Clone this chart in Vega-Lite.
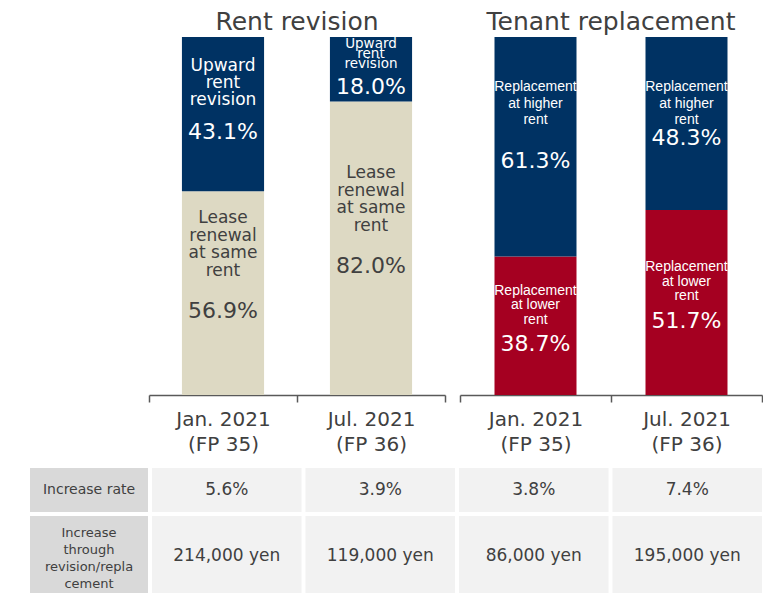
{
  "$schema": "https://vega.github.io/schema/vega-lite/v6.json",
  "background": "white",
  "padding": {"left": 30, "top": 10, "right": 0, "bottom": 0},
  "config": {
    "view": {"stroke": null},
    "font": "DejaVu Sans",
    "title": {"font": "DejaVu Sans", "fontSize": 25, "fontWeight": "normal", "color": "#404040", "baseline": "alphabetic", "offset": 2, "anchor": "middle"},
    "text": {"font": "DejaVu Sans"},
    "axisX": {
      "title": null, "labelAngle": 0, "labelExpr": "split(datum.label, '\\n')",
      "labelFont": "DejaVu Sans", "labelFontSize": 20, "labelColor": "#404040", "labelLineHeight": 25.5,
      "labelPadding": 7, "tickBand": "extent", "tickSize": 7, "tickColor": "#595959", "tickWidth": 1.5,
      "domainColor": "#595959", "domainWidth": 1.5
    }
  },
  "datasets": {
    "rent": [
      {"period": "Jan. 2021\n(FP 35)", "seg": "Lease renewal at same rent", "name": "Lease\nrenewal\nat same\nrent", "pct": 0.569, "ord": 1},
      {"period": "Jan. 2021\n(FP 35)", "seg": "Upward rent revision", "name": "Upward\nrent\nrevision", "pct": 0.431, "ord": 2},
      {"period": "Jul. 2021\n(FP 36)", "seg": "Lease renewal at same rent", "name": "Lease\nrenewal\nat same\nrent", "pct": 0.82, "ord": 1},
      {"period": "Jul. 2021\n(FP 36)", "seg": "Upward rent revision", "name": "Upward\nrent\nrevision", "pct": 0.18, "ord": 2}
    ],
    "tenant": [
      {"period": "Jan. 2021\n(FP 35)", "seg": "Replacement at lower rent", "name": "Replacement\nat lower\nrent", "pct": 0.387, "ord": 1},
      {"period": "Jan. 2021\n(FP 35)", "seg": "Replacement at higher rent", "name": "Replacement\nat higher\nrent", "pct": 0.613, "ord": 2},
      {"period": "Jul. 2021\n(FP 36)", "seg": "Replacement at lower rent", "name": "Replacement\nat lower\nrent", "pct": 0.517, "ord": 1},
      {"period": "Jul. 2021\n(FP 36)", "seg": "Replacement at higher rent", "name": "Replacement\nat higher\nrent", "pct": 0.483, "ord": 2}
    ],
    "rows": [
      {"metric": "Increase rate", "label": "Increase rate"},
      {"metric": "Increase through revision/replacement", "label": "Increase\nthrough\nrevision/repla\ncement"}
    ],
    "table": [
      {"metric": "Increase rate", "col": "Rent revision Jan. 2021 (FP 35)", "value": "5.6%"},
      {"metric": "Increase rate", "col": "Rent revision Jul. 2021 (FP 36)", "value": "3.9%"},
      {"metric": "Increase rate", "col": "Tenant replacement Jan. 2021 (FP 35)", "value": "3.8%"},
      {"metric": "Increase rate", "col": "Tenant replacement Jul. 2021 (FP 36)", "value": "7.4%"},
      {"metric": "Increase through revision/replacement", "col": "Rent revision Jan. 2021 (FP 35)", "value": "214,000 yen"},
      {"metric": "Increase through revision/replacement", "col": "Rent revision Jul. 2021 (FP 36)", "value": "119,000 yen"},
      {"metric": "Increase through revision/replacement", "col": "Tenant replacement Jan. 2021 (FP 35)", "value": "86,000 yen"},
      {"metric": "Increase through revision/replacement", "col": "Tenant replacement Jul. 2021 (FP 36)", "value": "195,000 yen"}
    ]
  },
  "vconcat": [
    {
      "resolve": {"scale": {"color": "independent"}},
      "hconcat": [
        {"width": 105, "height": 10, "data": {"values": []}, "mark": "rect"},
        {
          "title": "Rent revision",
          "width": 296, "height": 358,
          "data": {"name": "rent"},
          "transform": [{"stack": "pct", "groupby": ["period"], "sort": [{"field": "ord", "order": "ascending"}], "as": ["y0", "y1"]}],
          "encoding": {"x": {"field": "period", "type": "nominal", "sort": null, "scale": {"paddingInner": 0, "paddingOuter": 0}}},
          "layer": [
            {
              "mark": {"type": "bar", "width": {"band": 0.555}},
              "encoding": {
                "y": {"field": "y0", "type": "quantitative", "scale": {"domain": [0, 1]}, "axis": null},
                "y2": {"field": "y1"},
                "color": {"field": "seg", "type": "nominal", "legend": null,
                  "scale": {"domain": ["Lease renewal at same rent", "Upward rent revision"], "range": ["#DDD9C3", "#003263"]}}
              }
            },
            {
              "transform": [
                {"fold": ["y0", "y1"], "as": ["edge", "ev"]},
                {"aggregate": [{"op": "mean", "field": "ev", "as": "mid"}], "groupby": ["period", "seg", "name", "pct"]},
                {"filter": "datum.seg === 'Upward rent revision' && datum.pct >= 0.3"}
              ],
              "mark": {"type": "text", "lineBreak": "\n", "baseline": "alphabetic", "fontSize": 17, "lineHeight": 17, "dy": -43, "color": "#FFFFFF"},
              "encoding": {"y": {"field": "mid", "type": "quantitative", "scale": {"domain": [0, 1]}}, "text": {"field": "name"}}
            },
            {
              "transform": [
                {"fold": ["y0", "y1"], "as": ["edge", "ev"]},
                {"aggregate": [{"op": "mean", "field": "ev", "as": "mid"}], "groupby": ["period", "seg", "name", "pct"]},
                {"filter": "datum.seg === 'Upward rent revision' && datum.pct < 0.3"}
              ],
              "mark": {"type": "text", "lineBreak": "\n", "baseline": "alphabetic", "fontSize": 13.5, "lineHeight": 10, "dy": -21, "color": "#FFFFFF"},
              "encoding": {"y": {"field": "mid", "type": "quantitative", "scale": {"domain": [0, 1]}}, "text": {"field": "name"}}
            },
            {
              "transform": [
                {"fold": ["y0", "y1"], "as": ["edge", "ev"]},
                {"aggregate": [{"op": "mean", "field": "ev", "as": "mid"}], "groupby": ["period", "seg", "name", "pct"]},
                {"filter": "datum.seg === 'Lease renewal at same rent'"}
              ],
              "mark": {"type": "text", "lineBreak": "\n", "baseline": "alphabetic", "fontSize": 17, "lineHeight": 17.5, "dy": -70, "color": "#404040"},
              "encoding": {"y": {"field": "mid", "type": "quantitative", "scale": {"domain": [0, 1]}}, "text": {"field": "name"}}
            },
            {
              "transform": [
                {"fold": ["y0", "y1"], "as": ["edge", "ev"]},
                {"aggregate": [{"op": "mean", "field": "ev", "as": "mid"}], "groupby": ["period", "seg", "name", "pct"]}
              ],
              "mark": {"type": "text", "baseline": "middle", "fontSize": 22, "dy": 18},
              "encoding": {
                "y": {"field": "mid", "type": "quantitative", "scale": {"domain": [0, 1]}},
                "text": {"field": "pct", "type": "quantitative", "format": ".1%"},
                "color": {"condition": {"test": "datum.seg === 'Lease renewal at same rent'", "value": "#404040"}, "value": "#FFFFFF"}
              }
            }
          ]
        },
        {
          "title": "Tenant replacement",
          "width": 302, "height": 358,
          "data": {"name": "tenant"},
          "transform": [{"stack": "pct", "groupby": ["period"], "sort": [{"field": "ord", "order": "ascending"}], "as": ["y0", "y1"]}],
          "encoding": {"x": {"field": "period", "type": "nominal", "sort": null, "scale": {"paddingInner": 0, "paddingOuter": 0}}},
          "layer": [
            {
              "mark": {"type": "bar", "width": {"band": 0.543}},
              "encoding": {
                "y": {"field": "y0", "type": "quantitative", "scale": {"domain": [0, 1]}, "axis": null},
                "y2": {"field": "y1"},
                "color": {"field": "seg", "type": "nominal", "legend": null,
                  "scale": {"domain": ["Replacement at lower rent", "Replacement at higher rent"], "range": ["#A50021", "#003263"]}}
              }
            },
            {
              "transform": [
                {"filter": "datum.seg === 'Replacement at higher rent'"}
              ],
              "mark": {"type": "text", "lineBreak": "\n", "baseline": "alphabetic", "font": "Liberation Sans", "fontSize": 14, "lineHeight": 16.5, "dy": 54, "color": "#FFFFFF"},
              "encoding": {"y": {"field": "y1", "type": "quantitative", "scale": {"domain": [0, 1]}}, "text": {"field": "name"}}
            },
            {
              "transform": [
                {"fold": ["y0", "y1"], "as": ["edge", "ev"]},
                {"aggregate": [{"op": "mean", "field": "ev", "as": "mid"}], "groupby": ["period", "seg", "name", "pct"]},
                {"filter": "datum.seg === 'Replacement at lower rent'"}
              ],
              "mark": {"type": "text", "lineBreak": "\n", "baseline": "alphabetic", "font": "Liberation Sans", "fontSize": 14, "lineHeight": 14.5, "dy": -31, "color": "#FFFFFF"},
              "encoding": {"y": {"field": "mid", "type": "quantitative", "scale": {"domain": [0, 1]}}, "text": {"field": "name"}}
            },
            {
              "transform": [
                {"fold": ["y0", "y1"], "as": ["edge", "ev"]},
                {"aggregate": [{"op": "mean", "field": "ev", "as": "mid"}], "groupby": ["period", "seg", "name", "pct"]},
                {"filter": "datum.seg === 'Replacement at higher rent'"}
              ],
              "mark": {"type": "text", "baseline": "middle", "fontSize": 22, "dy": 14.5, "color": "#FFFFFF"},
              "encoding": {
                "y": {"field": "mid", "type": "quantitative", "scale": {"domain": [0, 1]}},
                "text": {"field": "pct", "type": "quantitative", "format": ".1%"}
              }
            },
            {
              "transform": [
                {"fold": ["y0", "y1"], "as": ["edge", "ev"]},
                {"aggregate": [{"op": "mean", "field": "ev", "as": "mid"}], "groupby": ["period", "seg", "name", "pct"]},
                {"filter": "datum.seg === 'Replacement at lower rent'"}
              ],
              "mark": {"type": "text", "baseline": "middle", "fontSize": 22, "dy": 18.5, "color": "#FFFFFF"},
              "encoding": {
                "y": {"field": "mid", "type": "quantitative", "scale": {"domain": [0, 1]}},
                "text": {"field": "pct", "type": "quantitative", "format": ".1%"}
              }
            }
          ]
        }
      ],
      "spacing": 13
    },
    {
      "vconcat": [
        {
          "hconcat": [
            {
              "width": 118, "height": 44,
              "data": {"name": "rows"},
              "transform": [{"filter": {"field": "metric", "equal": "Increase rate"}}],
              "encoding": {"x": {"field": "metric", "type": "nominal", "axis": null, "scale": {"paddingInner": 0, "paddingOuter": 0}}},
              "layer": [
                {"mark": {"type": "rect", "color": "#D9D9D9"}, "encoding": {"y": {"value": 0}, "y2": {"value": "height"}}},
                {"mark": {"type": "text", "fontSize": 14, "color": "#404040"}, "encoding": {"text": {"field": "label"}}}
              ]
            },
            {
              "width": 610, "height": 44,
              "data": {"name": "table"},
              "transform": [{"filter": {"field": "metric", "equal": "Increase rate"}}],
              "encoding": {"x": {"field": "col", "type": "nominal", "sort": null, "axis": null, "scale": {"paddingInner": 0.026, "paddingOuter": 0}}},
              "layer": [
                {"mark": {"type": "rect", "color": "#F2F2F2"}, "encoding": {"y": {"value": 0}, "y2": {"value": "height"}}},
                {"mark": {"type": "text", "fontSize": 17, "color": "#404040"}, "encoding": {"text": {"field": "value"}}}
              ]
            }
          ],
          "spacing": 4
        },
        {
          "hconcat": [
            {
              "width": 118, "height": 80,
              "data": {"name": "rows"},
              "transform": [{"filter": {"field": "metric", "equal": "Increase through revision/replacement"}}],
              "encoding": {"x": {"field": "metric", "type": "nominal", "axis": null, "scale": {"paddingInner": 0, "paddingOuter": 0}}},
              "layer": [
                {"mark": {"type": "rect", "color": "#D9D9D9"}, "encoding": {"y": {"value": 0}, "y2": {"value": "height"}}},
                {"mark": {"type": "text", "fontSize": 13, "color": "#404040", "lineBreak": "\n", "lineHeight": 17, "baseline": "alphabetic", "dy": -19}, "encoding": {"text": {"field": "label"}}}
              ]
            },
            {
              "width": 610, "height": 80,
              "data": {"name": "table"},
              "transform": [{"filter": {"field": "metric", "equal": "Increase through revision/replacement"}}],
              "encoding": {"x": {"field": "col", "type": "nominal", "sort": null, "axis": null, "scale": {"paddingInner": 0.026, "paddingOuter": 0}}},
              "layer": [
                {"mark": {"type": "rect", "color": "#F2F2F2"}, "encoding": {"y": {"value": 0}, "y2": {"value": "height"}}},
                {"mark": {"type": "text", "fontSize": 17, "color": "#404040"}, "encoding": {"text": {"field": "value"}}}
              ]
            }
          ],
          "spacing": 4
        }
      ],
      "spacing": 4
    }
  ],
  "spacing": 13
}
